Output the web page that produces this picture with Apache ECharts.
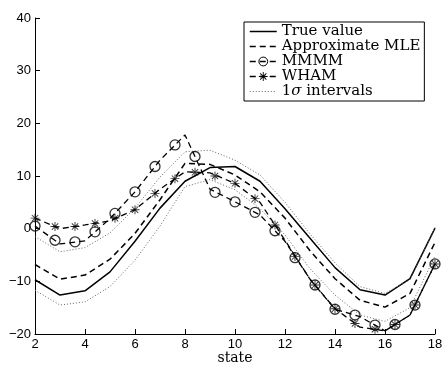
<!DOCTYPE html>
<html>
<head>
<meta charset="utf-8">
<script src="https://cdn.jsdelivr.net/npm/echarts@6/dist/echarts.min.js"></script>
<style>
html,body{margin:0;padding:0;background:#fff;}
#chart{width:445px;height:366px;}
</style>
</head>
<body>
<div id="chart"></div>
<script>
// integer states (lines)
const states = [2, 3, 4, 5, 6, 7, 8, 9, 10, 11, 12, 13, 14, 15, 16, 17, 18];
const trueValue = [-9.7, -12.6, -11.8, -8.2, -2.4, 3.9, 9.0, 11.6, 11.8, 9.0, 3.8, -1.8, -7.4, -11.6, -12.6, -9.5, 0.1];
const approxMLE = [-6.8, -9.6, -8.8, -5.8, -0.9, 5.5, 12.4, 12.2, 10.2, 7.0, 2.0, -4.2, -9.5, -13.6, -14.9, -12.3, -2.6];
const sigmaUpper = [-1.5, -4.4, -3.6, -0.8, 3.9, 9.8, 14.6, 14.9, 13.0, 10.2, 5.0, -1.0, -6.5, -11.0, -12.3, -9.7, 0.2];
const sigmaLower = [-11.7, -14.5, -13.9, -11.0, -6.0, 0.5, 8.0, 9.3, 7.4, 3.8, -1.2, -7.6, -12.6, -16.4, -17.6, -15.0, -5.2];
const mmmmLine = [0.5, -2.9, -2.3, 1.9, 7.0, 13.0, 17.8, 7.5, 5.1, 2.6, -2.4, -9.6, -15.3, -16.7, -19.4, -16.4, -6.7];
const whamLine = [2.0, 0.0, 0.7, 1.5, 3.6, 7.5, 10.8, 10.6, 8.6, 5.0, -2.2, -9.6, -15.2, -18.7, -19.4, -16.4, -6.7];
// marker states
const markerStates = [2, 2.8, 3.6, 4.4, 5.2, 6, 6.8, 7.6, 8.4, 9.2, 10, 10.8, 11.6, 12.4, 13.2, 14, 14.8, 15.6, 16.4, 17.2, 18];
const mmmmMarkers = [0.5, -2.2, -2.5, -0.6, 2.9, 7.0, 11.8, 15.9, 13.7, 6.9, 5.1, 3.1, -0.4, -5.5, -10.7, -15.3, -16.4, -18.3, -18.2, -14.5, -6.7];
const whamMarkers = [2.0, 0.4, 0.4, 1.0, 2.0, 3.6, 6.7, 9.5, 10.7, 10.0, 8.6, 5.7, 0.7, -5.3, -10.7, -15.2, -18.0, -19.1, -18.2, -14.5, -6.7];
// axis ticks
const xTicks = {min: 2, max: 18, step: 2};
const yTicks = {min: -20, max: 40, step: 10};
const xName = 'state';
const legendNames = ['True value', 'Approximate MLE', 'MMMM', 'WHAM', '1σ intervals'];

const pair = (xs, ys) => xs.map((x, i) => [x, ys[i]]);
const starPath = 'path://M-1,-0.1L1,-0.1L1,0.1L-1,0.1Z M-0.1,-1L0.1,-1L0.1,1L-0.1,1Z M-0.636,-0.778L0.778,0.636L0.636,0.778L-0.778,-0.636Z M0.636,-0.778L0.778,-0.636L-0.636,0.778L-0.778,0.636Z';
const sansFont = '"Liberation Sans", Arial, sans-serif';
const serifFont = '"DejaVu Serif", serif';

const chart = echarts.init(document.getElementById('chart'), null, {renderer: 'canvas'});
const baseLine = {type: 'line', showSymbol: false, silent: true, animation: false, z: 3};
chart.setOption({
  animation: false,
  backgroundColor: '#fff',
  grid: {left: 35, right: 10, top: 18, bottom: 32, containLabel: false, outerBoundsMode: 'none'},
  xAxis: {
    type: 'value', min: xTicks.min, max: xTicks.max, interval: xTicks.step,
    name: xName, nameLocation: 'middle', nameGap: 17, nameMoveOverlap: false,
    nameTextStyle: {fontFamily: serifFont, fontSize: 14, color: '#000'},
    axisLine: {onZero: false, lineStyle: {color: '#000', width: 1}},
    axisTick: {inside: true, length: 5, lineStyle: {color: '#000'}},
    axisLabel: {fontFamily: sansFont, fontSize: 13, color: '#000', margin: 4},
    splitLine: {show: false}
  },
  yAxis: {
    type: 'value', min: yTicks.min, max: yTicks.max, interval: yTicks.step,
    axisLine: {show: true, onZero: false, lineStyle: {color: '#000', width: 1}},
    axisTick: {show: true, inside: true, length: 5, lineStyle: {color: '#000'}},
    axisLabel: {fontFamily: sansFont, fontSize: 13, color: '#000', margin: 4,
      formatter: v => (v < 0 ? '\u2212' + Math.abs(v) : String(v))},
    splitLine: {show: false}
  },
  legend: {
    orient: 'vertical', left: 244, top: 22,
    backgroundColor: '#fff', borderColor: '#000', borderWidth: 1,
    padding: [2, 4, 2, 5], itemGap: 0, itemWidth: 27, itemHeight: 11,
    selectedMode: false,
    lineStyle: {width: 1.5},
    textStyle: {fontFamily: serifFont, fontSize: 15, color: '#000', lineHeight: 14.5,
      rich: {i: {fontFamily: serifFont, fontStyle: 'italic', fontSize: 15, lineHeight: 14.5}}},
    formatter: n => n === '1σ intervals' ? '1{i|σ} intervals' : n,
    data: [
      {name: legendNames[0], itemStyle: {opacity: 0}},
      {name: legendNames[1], itemStyle: {opacity: 0}},
      {name: legendNames[2], itemStyle: {color: 'rgba(0,0,0,0)', borderColor: '#000', borderWidth: 1}},
      {name: legendNames[3], itemStyle: {color: '#000', borderWidth: 0}},
      {name: legendNames[4], itemStyle: {opacity: 0}, lineStyle: {width: 1}}
    ]
  },
  series: [
    Object.assign({}, baseLine, {name: legendNames[0], data: pair(states, trueValue),
      lineStyle: {color: '#000', width: 1.5, type: 'solid'}, itemStyle: {color: '#000'}}),
    Object.assign({}, baseLine, {name: legendNames[1], data: pair(states, approxMLE),
      lineStyle: {color: '#000', width: 1.5, type: [6, 4]}, itemStyle: {color: '#000'}}),
    Object.assign({}, baseLine, {name: legendNames[2], data: pair(states, mmmmLine), symbol: 'circle',
      lineStyle: {color: '#000', width: 1.3, type: [6, 4]}, itemStyle: {color: '#000'}}),
    Object.assign({}, baseLine, {name: legendNames[3], data: pair(states, whamLine), symbol: starPath,
      lineStyle: {color: '#000', width: 1.3, type: [6, 4]}, itemStyle: {color: '#000'}}),
    Object.assign({}, baseLine, {name: legendNames[4], data: pair(states, sigmaUpper),
      lineStyle: {color: '#666', width: 1, type: [1, 2]}, itemStyle: {color: '#666'}}),
    Object.assign({}, baseLine, {name: legendNames[4], data: pair(states, sigmaLower),
      lineStyle: {color: '#666', width: 1, type: [1, 2]}, itemStyle: {color: '#666'}}),
    {type: 'scatter', name: 'MMMM markers', data: pair(markerStates, mmmmMarkers), symbol: 'circle', symbolSize: 10,
      silent: true, animation: false, z: 4,
      itemStyle: {color: 'rgba(0,0,0,0)', borderColor: '#000', borderWidth: 1.3}},
    {type: 'scatter', name: 'WHAM markers', data: pair(markerStates, whamMarkers), symbol: starPath, symbolSize: 9,
      silent: true, animation: false, z: 4,
      itemStyle: {color: '#000'}}
  ]
});
</script>
</body>
</html>
